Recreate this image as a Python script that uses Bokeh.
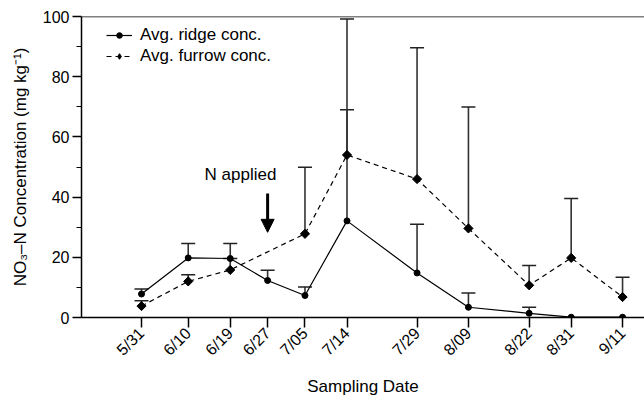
import math
from datetime import date
from bokeh.plotting import figure
from bokeh.models import (ColumnDataSource, Whisker, TeeHead, FixedTicker, Span,
                          Arrow, NormalHead, Label, Legend, LegendItem, Range1d)
from bokeh.embed import file_html
from bokeh.resources import INLINE

# ---------------- data ----------------
dates = ["5/31", "6/10", "6/19", "6/27", "7/05", "7/14", "7/29", "8/09", "8/22", "8/31", "9/11"]
ridge = [7.8, 19.8, 19.6, 12.3, 7.3, 32.1, 14.8, 3.4, 1.4, 0.1, 0.1]
ridge_top = [9.5, 24.6, 24.6, 15.7, 10.1, 69.0, 31.0, 8.1, 3.4, None, None]
furrow = [3.8, 12.0, 15.8, None, 27.8, 54.0, 46.0, 29.6, 10.7, 19.8, 6.8]
furrow_top = [5.6, 14.2, 19.6, None, 49.9, 99.2, 89.6, 69.9, 17.3, 39.5, 13.4]
y_ticks = [0, 20, 40, 60, 80, 100]
y_minor = [10, 30, 50, 70, 90]
n_applied_date = "6/27"

FONT = "Liberation Sans"


def doy(s):
    m, d = s.split("/")
    return date(2001, int(m), int(d)).timetuple().tm_yday


xs = [doy(d) for d in dates]


def pairs(xv, yv):
    keep = [(a, b) for a, b in zip(xv, yv) if b is not None]
    return [a for a, _ in keep], [b for _, b in keep]


def whisk(xv, base, top):
    keep = [(a, b, t) for a, b, t in zip(xv, base, top) if b is not None and t is not None]
    return ColumnDataSource(dict(x=[k[0] for k in keep], y=[k[1] for k in keep],
                                 top=[k[2] for k in keep]))


p = figure(width=644, height=398, output_backend="svg", toolbar_location=None,
           x_range=Range1d(xs[0] - 12.85, xs[0] + 107.7), y_range=Range1d(0, 100),
           min_border_left=81, min_border_right=0, min_border_top=16, min_border_bottom=81)
p.outline_line_color = None
p.grid.grid_line_color = None
p.background_fill_color = "white"
p.border_fill_color = "white"

# top frame line
p.add_layout(Span(location=100, dimension="width", line_color="black", line_width=1.5))

# error bars (upper only)
for src in (whisk(xs, ridge, ridge_top), whisk(xs, furrow, furrow_top)):
    w = Whisker(source=src, base="x", upper="top", lower="y", dimension="height",
                upper_head=TeeHead(size=14, line_color="#222222", line_width=1.5),
                lower_head=None, line_color="#333333", line_width=1.6)
    p.add_layout(w)

rx, ry = pairs(xs, ridge)
fx, fy = pairs(xs, furrow)
r_line = p.line(rx, ry, line_color="black", line_width=1.2)
r_pts = p.scatter(rx, ry, marker="circle", size=6, color="black")
f_line = p.line(fx, fy, line_color="black", line_width=1.2, line_dash="5 4")
f_pts = p.scatter(fx, fy, marker="square", size=6.5, angle=math.pi / 4, color="black")
# marker shape used only for the legend swatch (not drawn on the plot: NaN position)
f_key = p.scatter([float("nan")], [float("nan")], marker="diamond", size=8, color="black")

legend = Legend(items=[LegendItem(label="Avg. ridge conc.", renderers=[r_line, r_pts]),
                       LegendItem(label="Avg. furrow conc.", renderers=[f_line, f_key])],
                location=(25, 251), padding=0, margin=0, spacing=1,
                glyph_width=26, glyph_height=14, label_height=20, label_standoff=8,
                label_text_font=FONT, label_text_font_size="17px", label_text_color="black",
                border_line_color=None, background_fill_alpha=0)
p.add_layout(legend)

# N applied annotation
xa = doy(n_applied_date)
p.add_layout(Arrow(end=NormalHead(size=13, fill_color="black", line_color="black"),
                   x_start=xa, y_start=41.2, x_end=xa, y_end=28.3,
                   line_width=3, line_color="black"))
p.add_layout(Label(x=xa - 5.8, y=47.5, text="N applied", text_align="center",
                   text_baseline="middle", text_font=FONT, text_font_size="17px",
                   text_color="black"))

# axes
xa_ = p.xaxis[0]
xa_.ticker = FixedTicker(ticks=xs)
xa_.major_label_overrides = {x: d for x, d in zip(xs, dates)}
xa_.major_label_orientation = math.pi / 4
xa_.minor_tick_line_color = None
xa_.major_tick_in = 0
xa_.major_tick_out = 10
xa_.major_label_standoff = 3
xa_.axis_label = "Sampling Date"
xa_.axis_label_standoff = 9

ya = p.yaxis[0]
ya.ticker = FixedTicker(ticks=y_ticks, minor_ticks=y_minor)
ya.major_tick_in = 0
ya.major_tick_out = 9
ya.minor_tick_in = 0
ya.minor_tick_out = 5
ya.major_label_standoff = 3
ya.axis_label = "NO₃–N Concentration (mg kg⁻¹)"
ya.axis_label_standoff = 10

for ax in (xa_, ya):
    ax.axis_line_width = 1.5
    ax.axis_line_color = "black"
    ax.major_tick_line_width = 1.5
    ax.minor_tick_line_width = 1.2
    ax.major_label_text_font = FONT
    ax.major_label_text_font_size = "16px"
    ax.major_label_text_color = "black"
    ax.axis_label_text_font = FONT
    ax.axis_label_text_font_size = "17px"
    ax.axis_label_text_font_style = "normal"
    ax.axis_label_text_color = "black"

open("out.html", "w").write(file_html(p, INLINE))
